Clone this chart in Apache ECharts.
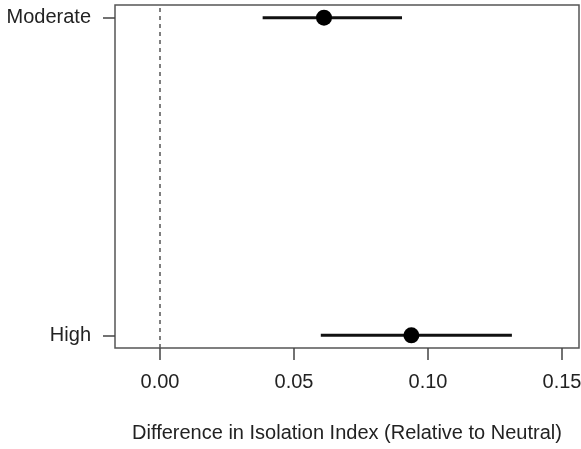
<!DOCTYPE html>
<html>
<head>
<meta charset="utf-8">
<script src="https://cdn.jsdelivr.net/npm/echarts@6/dist/echarts.min.js"></script>
<style>html,body{margin:0;padding:0;background:#fff}#c{width:581px;height:449px}</style>
</head>
<body>
<div id="c"></div>
<script>
const categories = ["High", "Moderate"];
const estimates = [0.0938, 0.0612];
const lower = [0.0600, 0.0383];
const upper = [0.1313, 0.0903];
const xTicks = [0, 0.05, 0.10, 0.15];
const xTitle = "Difference in Isolation Index (Relative to Neutral)";

const pos = categories.map((c, i) => i + 1);
const FONT = "'Liberation Sans', Arial, Helvetica, sans-serif";

const chart = echarts.init(document.getElementById('c'), null, {renderer: 'canvas'});
chart.setOption({
  animation: false,
  grid: {left: 115, right: 2, top: 5, bottom: 101, show: true, borderColor: '#555', borderWidth: 1.5,
    backgroundColor: '#fff', containLabel: false, outerBoundsMode: 'none'},
  xAxis: {
    type: 'value', min: -0.01679, max: 0.15634,
    splitLine: {show: false},
    axisLine: {show: false, onZero: false},
    axisTick: {show: true, length: 12, customValues: xTicks, lineStyle: {color: '#444', width: 1.5}},
    axisLabel: {customValues: xTicks, margin: 24, fontSize: 20, fontFamily: FONT, color: '#222', formatter: v => v.toFixed(2)},
    name: xTitle, nameLocation: 'middle', nameGap: 75,
    nameTextStyle: {fontSize: 20, fontFamily: FONT, color: '#222'}
  },
  yAxis: {
    type: 'value', min: 0.96, max: 2.04,
    splitLine: {show: false},
    axisLine: {show: false, onZero: false},
    axisTick: {show: true, length: 12, customValues: pos, lineStyle: {color: '#444', width: 1.5}},
    axisLabel: {customValues: pos, margin: 24, fontSize: 20, fontFamily: FONT, color: '#222',
      formatter: v => categories[Math.round(v) - 1] || ''}
  },
  series: [
    {
      type: 'custom',
      data: pos.map((p, i) => [lower[i], upper[i], p]),
      renderItem: (params, api) => {
        const a = api.coord([api.value(0), api.value(2)]);
        const b = api.coord([api.value(1), api.value(2)]);
        return {type: 'line', shape: {x1: a[0], y1: a[1], x2: b[0], y2: b[1]},
          style: {stroke: '#111', lineWidth: 3}};
      },
      encode: {x: [0, 1], y: 2},
      z: 3
    },
    {
      type: 'scatter',
      data: pos.map((p, i) => [estimates[i], p]),
      symbol: 'circle', symbolSize: 16,
      itemStyle: {color: '#000', opacity: 1},
      z: 4,
      markLine: {
        silent: true, symbol: 'none', label: {show: false},
        lineStyle: {color: '#555', type: [4, 4], width: 1.5},
        data: [{xAxis: 0}]
      }
    }
  ]
});
</script>
</body>
</html>
